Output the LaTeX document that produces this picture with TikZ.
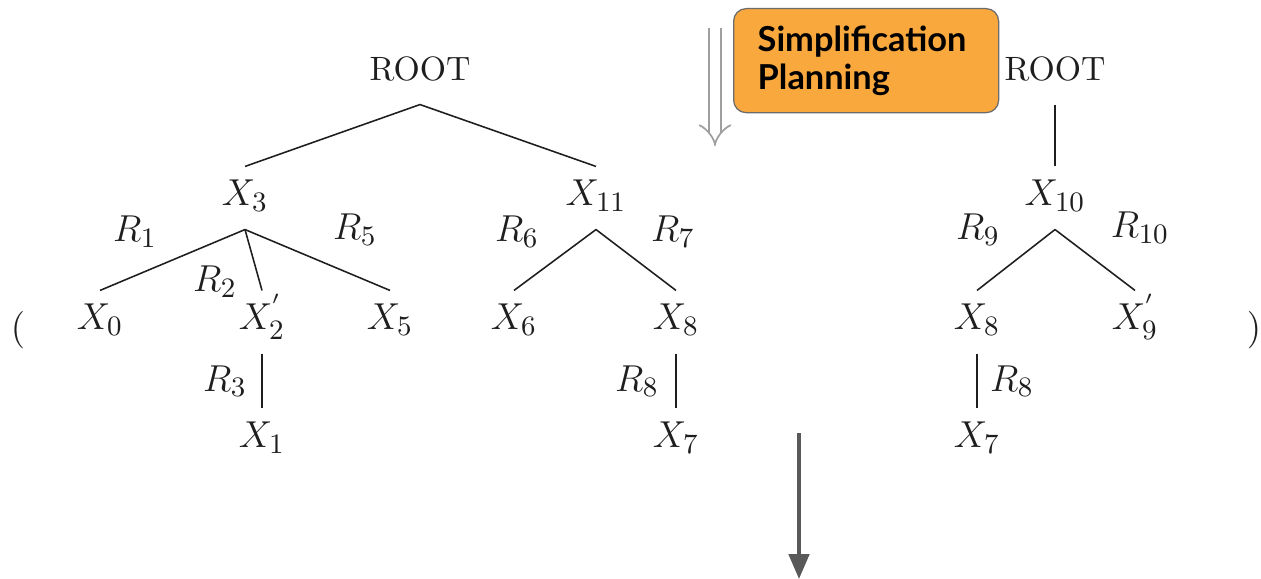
\documentclass[tikz,border=0pt]{standalone}
\usepackage{fontspec}
\newfontfamily\boxfont{Lato}
\usetikzlibrary{arrows.meta}
\definecolor{planorange}{HTML}{F9A83E}
\definecolor{inkgray}{HTML}{1E1E1E}

\begin{document}
\begin{tikzpicture}[x=0.32pt, y=-0.32pt,
  tn/.style={minimum height=19.8pt, inner xsep=1pt, text height=8pt, text depth=3pt, text=inkgray, font=\fontsize{12.5}{15}\selectfont},
  rootnode/.style={tn, font=\fontsize{10.8}{13}\selectfont},
  lbl/.style={text=inkgray, font=\fontsize{12.5}{15}\selectfont},
  edge/.style={line width=0.5pt, inkgray}]
\useasboundingbox (0,0) rectangle (1261,579);

% first tree
\node[rootnode] (rootA) at (420,73) {ROOT};
\node[tn] (x3) at (245,198) {$X_3$};
\node[tn] (x11) at (596,198) {$X_{11}$};
\node[tn] (x0) at (100,322) {$X_0$};
\node[tn] (x2p) at (262,322) {$X_2^{'}$};
\node[tn] (x5) at (390,322) {$X_5$};
\node[tn] (x6) at (514,322) {$X_6$};
\node[tn] (x8) at (676,322) {$X_8$};
\node[tn] (x1) at (262,440) {$X_1$};
\node[tn] (x7) at (676,440) {$X_7$};
\node[lbl] (r1) at (135,232) {$R_1$};
\node[lbl] (r5) at (355,230) {$R_5$};
\node[lbl] (r2) at (215,282) {$R_2$};
\node[lbl] (r6) at (517,232) {$R_6$};
\node[lbl] (r7) at (673,232) {$R_7$};
\node[lbl] (r3) at (225,381) {$R_3$};
\node[lbl] (r8) at (637,381) {$R_8$};
\draw[edge] (rootA.south) -- (x3.north);
\draw[edge] (rootA.south) -- (x11.north);
\draw[edge] (x3.south) -- (x0.north);
\draw[edge] (x3.south) -- (x2p.north);
\draw[edge] (x3.south) -- (x5.north);
\draw[edge] (x11.south) -- (x6.north);
\draw[edge] (x11.south) -- (x8.north);
\draw[edge] (x2p.south) -- (x1.north);
\draw[edge] (x8.south) -- (x7.north);

% second tree
\node[rootnode] (rootB) at (1055,73) {ROOT};
\node[tn] (x10) at (1055,198) {$X_{10}$};
\node[tn] (x8b) at (977,322) {$X_8$};
\node[tn] (x9p) at (1135,322) {$X_9^{'}$};
\node[tn] (x7b) at (977,440) {$X_7$};
\node[lbl] (r9) at (978,230) {$R_9$};
\node[lbl] (r10) at (1140,228) {$R_{10}$};
\node[lbl] (r8b) at (1012,381) {$R_8$};
\draw[edge] (rootB.south) -- (x10.north);
\draw[edge] (x10.south) -- (x8b.north);
\draw[edge] (x10.south) -- (x9p.north);
\draw[edge] (x8b.south) -- (x7b.north);

\node[lbl] (lpar) at (18,330) {$($};
\node[lbl] (rpar) at (1254,330) {$)$};

% simplification step
\coordinate (dtop) at (715,28);
\coordinate (dbot) at (715,146);
\draw[draw=gray!75, line width=0.55pt, double=white, double distance=3.2pt, -{Implies}] (dtop) -- (dbot);
\node[draw=gray!85!black, fill=planorange, rounded corners=4pt, anchor=north west,
  minimum width=84.8pt, minimum height=33.3pt, inner xsep=7.7pt,
  text width=69.4pt, align=left,
  font=\boxfont\bfseries\fontsize{11}{12.2}\selectfont] (plan) at (733,8) {Simplification\\Planning};

\coordinate (btop) at (799,433);
\coordinate (bbot) at (799,579);
\draw[line width=1.3pt, black!65, -{Triangle[length=8pt,width=6.5pt]}] (btop) -- (bbot);
\end{tikzpicture}
\end{document}
